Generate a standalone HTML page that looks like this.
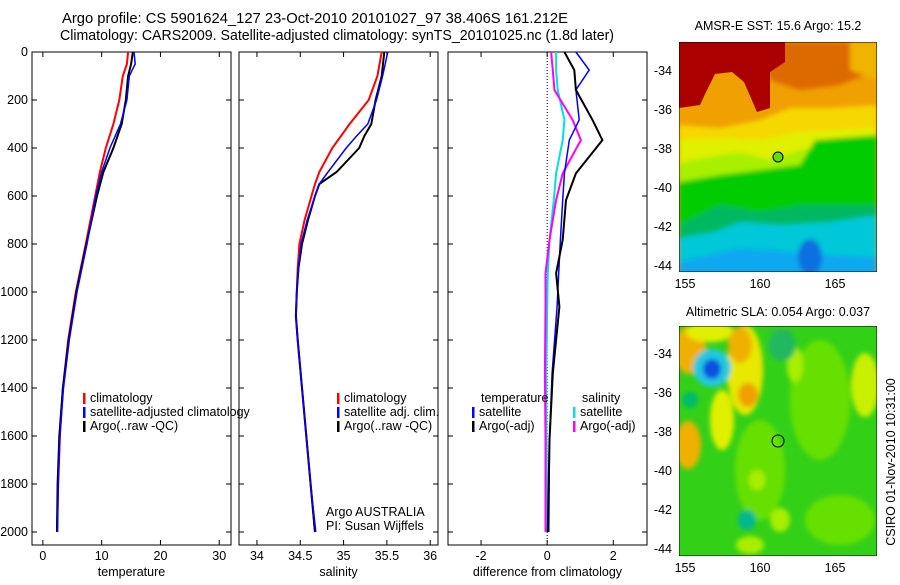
<!DOCTYPE html>
<html><head><meta charset="utf-8"><style>
body{margin:0;background:#fff}
svg text{font-family:"Liberation Sans",sans-serif;fill:#000}
</style></head><body>
<svg id="fig" width="900" height="580" xmlns="http://www.w3.org/2000/svg">
<defs>
<filter id="bl" x="-10%" y="-10%" width="120%" height="120%"><feGaussianBlur stdDeviation="2.5"/></filter>
<clipPath id="m1c"><rect x="679" y="42" width="198" height="230"/></clipPath>
<clipPath id="m2c"><rect x="679" y="326" width="198" height="230"/></clipPath>
</defs>
<text x="62" y="23" font-size="14.8" textLength="506" lengthAdjust="spacingAndGlyphs">Argo profile: CS 5901624_127 23-Oct-2010 20101027_97 38.406S 161.212E</text>
<text x="60" y="40" font-size="14.8" textLength="554" lengthAdjust="spacingAndGlyphs">Climatology: CARS2009. Satellite-adjusted climatology: synTS_20101025.nc (1.8d later)</text>
<g id="axes"></g>
<g clip-path="url(#m1c)">
<rect x="679" y="42" width="198" height="230" fill="#f0a000"/>
<g filter="url(#bl)">
<polygon fill="#dd6a00" points="760,42 877,42 877,70 840,85 800,90 770,80"/>
<polygon fill="#f0b400" points="850,42 877,42 877,80 850,70"/>
<polygon fill="#f5d800" points="679,125 720,128 760,120 790,108 830,108 877,105 877,300 679,300"/>
<polygon fill="#e0f000" points="679,140 730,138 760,140 800,132 877,128 877,300 679,300"/>
<polygon fill="#a8f000" points="690,160 740,152 770,160 800,150 877,140 877,300 679,300 679,165"/>
<polygon fill="#00cc00" points="679,182 720,175 760,170 800,165 815,140 877,135 877,300 679,300"/>
<polygon fill="#00b860" points="679,225 720,205 760,212 800,205 877,205 877,300 679,300"/>
<polygon fill="#00c8d8" points="679,238 715,232 740,222 780,225 830,222 877,215 877,300 679,300"/>
<polygon fill="#10a8f0" points="679,262 740,248 790,252 877,258 877,300 679,300"/>
<ellipse fill="#1070e0" cx="810" cy="257" rx="12" ry="18"/>
</g>
<polygon fill="#aa0000" points="679,42 785,42 785,62 770,72 770,108 757,112 744,82 732,72 715,74 706,92 700,105 679,108"/>
<rect x="679" y="42" width="198" height="230" fill="none" stroke="#000"/>
<circle cx="778" cy="157" r="5" fill="#66dd00" stroke="#000"/>
</g>
<g clip-path="url(#m2c)">
<rect x="679" y="326" width="198" height="230" fill="#33d018"/>
<g filter="url(#bl)">
<ellipse fill="#66e000" cx="820" cy="400" rx="30" ry="60"/>
<ellipse fill="#66e000" cx="760" cy="470" rx="25" ry="50"/>
<ellipse fill="#66e000" cx="840" cy="520" rx="35" ry="25"/>
<ellipse fill="#e8e800" cx="745" cy="370" rx="18" ry="45"/>
<ellipse fill="#f0b000" cx="690" cy="350" rx="16" ry="24"/>
<ellipse fill="#e0f000" cx="710" cy="332" rx="24" ry="10"/>
<ellipse fill="#f0b000" cx="740" cy="345" rx="12" ry="18"/>
<ellipse fill="#f0a000" cx="748" cy="395" rx="10" ry="12"/>
<ellipse fill="#e0f000" cx="722" cy="420" rx="12" ry="30"/>
<ellipse fill="#f0b000" cx="688" cy="445" rx="13" ry="24"/>
<ellipse fill="#c8f000" cx="865" cy="385" rx="14" ry="32"/>
<ellipse fill="#a8ee00" cx="795" cy="365" rx="8" ry="18"/>
<ellipse fill="#a8ee00" cx="780" cy="520" rx="10" ry="12"/>
<ellipse fill="#a8ee00" cx="750" cy="545" rx="14" ry="9"/>
<ellipse fill="#a8ee00" cx="757" cy="480" rx="8" ry="10"/>
<ellipse fill="#20b860" cx="782" cy="345" rx="14" ry="16"/>
<ellipse fill="#00b890" cx="747" cy="520" rx="9" ry="10"/>
<ellipse fill="#00b870" cx="690" cy="400" rx="8" ry="8"/>
<ellipse fill="#20c8e0" cx="712" cy="368" rx="19" ry="19"/>
<ellipse fill="#0a50e0" cx="712" cy="369" rx="9" ry="10"/>
</g>
<rect x="679" y="326" width="198" height="230" fill="none" stroke="#000"/>
<circle cx="778" cy="441" r="6" fill="none" stroke="#000"/>
</g>
<text x="778" y="30" font-size="12.5" text-anchor="middle">AMSR-E SST: 15.6 Argo: 15.2</text>
<text x="778" y="316" font-size="12.5" text-anchor="middle">Altimetric SLA: 0.054 Argo: 0.037</text>
<text transform="translate(895,462) rotate(-90)" font-size="12.5" text-anchor="middle">CSIRO 01-Nov-2010 10:31:00</text>
<text x="326" y="516" font-size="12.5">Argo AUSTRALIA</text>
<text x="326" y="530" font-size="12.5">PI: Susan Wijffels</text>
</svg>
<script>
const depthTicks=[0,200,400,600,800,1000,1200,1400,1600,1800,2000];
const tDepth=[0,50,100,200,300,400,500,600,800,1000,1200,1400,1600,1800,2000];
const tempClim=[14.5,14.3,13.6,13.0,12.0,10.7,9.7,8.9,7.3,5.6,4.3,3.4,2.9,2.6,2.4];
const tempArgo=[15.3,15.0,14.5,14.1,13.4,12.0,10.3,9.2,7.4,5.7,4.4,3.4,2.8,2.5,2.4];
const tempSat=[15.5,15.7,14.7,14.3,13.2,11.4,10.0,9.0,7.5,5.8,4.5,3.5,2.9,2.6,2.5];
const sDepth=[0,100,200,300,350,400,500,550,600,700,800,900,1000,1100,1200,1400,1600,1800,2000];
const salClim=[35.44,35.39,35.29,35.07,34.97,34.87,34.72,34.67,34.63,34.55,34.49,34.47,34.46,34.45,34.47,34.52,34.57,34.62,34.67];
const salArgo=[35.47,35.44,35.37,35.32,35.24,35.18,34.92,34.72,34.67,34.59,34.52,34.48,34.46,34.45,34.47,34.52,34.57,34.62,34.67];
const salSat=[35.51,35.45,35.38,35.28,35.15,35.03,34.82,34.72,34.67,34.58,34.51,34.48,34.46,34.45,34.47,34.52,34.57,34.62,34.68];
const dDepth=[0,75,158,283,367,506,617,783,922,1061,1339,1617,2000];
const dTempSat=[0.87,1.27,0.87,0.97,0.67,0.52,0.47,0.4,0.35,0.3,0.15,0.07,0.05];
const dTempArgo=[0.52,0.82,0.87,1.37,1.67,0.87,0.57,0.47,0.27,0.37,0.17,0.07,0.02];
const dSalSat=[0.27,0.27,0.32,0.52,0.47,0.27,0.2,0.07,0.02,0,-0.03,-0.02,0];
const dSalArgo=[0.12,0.17,0.22,0.77,1.02,0.47,0.27,0.07,-0.05,-0.05,-0.07,-0.05,-0.05];
const tempTicks=[0,10,20,30];
const salTicks=[34,34.5,35,35.5,36];
const diffTicks=[-2,0,2];
const mapLatTicks=[-34,-36,-38,-40,-42,-44];
const mapLonTicks=[155,160,165];

const NS='http://www.w3.org/2000/svg';
const g=document.getElementById('axes');
function mk(t,a,parent){const e=document.createElementNS(NS,t);for(const k in a)e.setAttribute(k,a[k]);(parent||g).appendChild(e);return e;}
const yD=d=>52+d*0.24;
const Y0=52,Y1=545;
const FS=12.5;
const panels=[
 {x0:32,x1:231,v0:-1.85,v1:32.0,ticks:tempTicks,label:'temperature',name:'temperature-panel'},
 {x0:239,x1:438,v0:33.793,v1:36.09,ticks:salTicks,label:'salinity',name:'salinity-panel'},
 {x0:448,x1:647,v0:-3.0,v1:3.02,ticks:diffTicks,label:'difference from climatology',name:'difference-panel'}];
panels.forEach((p,i)=>{
 p.sx=v=>p.x0+(v-p.v0)/(p.v1-p.v0)*(p.x1-p.x0);
 const fr=mk('rect',{x:p.x0,y:Y0,width:p.x1-p.x0,height:Y1-Y0,fill:'none',stroke:'#000','stroke-width':1});
 
 
 p.ticks.forEach(t=>{const x=p.sx(t);
  mk('line',{x1:x,x2:x,y1:Y1,y2:Y1-5,stroke:'#000'});mk('line',{x1:x,x2:x,y1:Y0,y2:Y0+5,stroke:'#000'});
  const tl=mk('text',{x:x,y:Y1+15,'font-size':FS,'text-anchor':'middle'});tl.textContent=String(t);
  
  
 });
 depthTicks.forEach(d=>{const y=yD(d);
  mk('line',{x1:p.x0,x2:p.x0+5,y1:y,y2:y,stroke:'#000'});mk('line',{x1:p.x1,x2:p.x1-5,y1:y,y2:y,stroke:'#000'});
  if(i===0){const tl=mk('text',{x:28,y:y+4,'font-size':FS,'text-anchor':'end'});tl.textContent=String(d);
   
   }
 });
 const xl=mk('text',{x:(p.x0+p.x1)/2,y:576,'font-size':FS,'text-anchor':'middle'});xl.textContent=p.label;
 
 
});
function line(p,ds,vs,col,w,name){
 const pts=ds.map((d,i)=>p.sx(vs[i]).toFixed(1)+','+yD(d).toFixed(1)).join(' ');
 const e=mk('polyline',{points:pts,fill:'none',stroke:col,'stroke-width':w});
 
 
}
line(panels[0],tDepth,tempClim,'#f00',2,'temp-climatology-line');
line(panels[0],tDepth,tempArgo,'#000',2,'temp-argo-line');
line(panels[0],tDepth,tempSat,'#00f',1.5,'temp-satellite-line');
line(panels[1],sDepth,salClim,'#f00',2,'sal-climatology-line');
line(panels[1],sDepth,salArgo,'#000',2,'sal-argo-line');
line(panels[1],sDepth,salSat,'#00f',1.5,'sal-satellite-line');
const zx=panels[2].sx(0);
mk('line',{x1:zx,x2:zx,y1:Y0,y2:Y1,stroke:'#000','stroke-dasharray':'1,2'});
line(panels[2],dDepth,dSalSat,'#00e0e0',2,'diff-sal-satellite-line');
line(panels[2],dDepth,dSalArgo,'#f0f',2,'diff-sal-argo-line');
line(panels[2],dDepth,dTempSat,'#00f',1.5,'diff-temp-satellite-line');
line(panels[2],dDepth,dTempArgo,'#000',2,'diff-temp-argo-line');
function leg(x,y,col,txt){
 mk('rect',{x:x,y:y-9,width:2.5,height:11,fill:col});
 const t=mk('text',{x:x+7,y:y,'font-size':FS});t.textContent=txt;
 
 
}
leg(83,402,'#f00','climatology');leg(83,416,'#00f','satellite-adjusted climatology');leg(83,430,'#000','Argo(..raw -QC)');
leg(337,402,'#f00','climatology');leg(337,416,'#00f','satellite adj. clim.');leg(337,430,'#000','Argo(..raw -QC)');
let t=mk('text',{x:481,y:402,'font-size':FS});t.textContent='temperature';
t=mk('text',{x:582,y:402,'font-size':FS});t.textContent='salinity';
leg(472,416,'#00f','satellite');leg(472,430,'#000','Argo(-adj)');
leg(573,416,'#00e0e0','satellite');leg(573,430,'#f0f','Argo(-adj)');
[[71,266,42,272],[354,549,326,556]].forEach(m=>{
 const [la0,la1,top,bot]=m;
 mapLatTicks.forEach(l=>{const y=la0+(l+34)/(-10)*(la1-la0);
  mk('line',{x1:679,x2:683,y1:y,y2:y,stroke:'#000'});mk('line',{x1:877,x2:873,y1:y,y2:y,stroke:'#000'});
  const tl=mk('text',{x:672,y:y+4,'font-size':FS,'text-anchor':'end'});tl.textContent=String(l);
  
  });
 mapLonTicks.forEach(l=>{const x=685+(l-155)*15;
  mk('line',{x1:x,x2:x,y1:bot,y2:bot-4,stroke:'#000'});mk('line',{x1:x,x2:x,y1:top,y2:top+4,stroke:'#000'});
  const tl=mk('text',{x:x,y:bot+16,'font-size':FS,'text-anchor':'middle'});tl.textContent=String(l);
  
  });
});
</script>
</body></html>
